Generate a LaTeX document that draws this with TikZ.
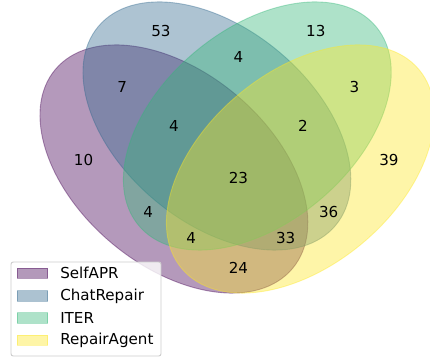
\documentclass[tikz,border=0pt]{standalone}
\usepackage{fontspec}
\setmainfont{DejaVu Sans}
\definecolor{cA}{HTML}{440154}
\definecolor{cB}{HTML}{31688E}
\definecolor{cC}{HTML}{35B779}
\definecolor{cD}{HTML}{FDE725}
\definecolor{legframe}{HTML}{CCCCCC}
\tikzset{
  venn/.style={fill=#1, draw=#1, fill opacity=0.4, draw opacity=0.4, line width=0.6pt},
  num/.style={font=\fontsize{10}{12}\selectfont, text=black, inner sep=0pt},
  legpatch/.style={fill=#1, draw=#1, fill opacity=0.4, draw opacity=0.4, line width=0.6pt, minimum width=0.0721*10cm-0.6pt, minimum height=0.0256*10cm-0.6pt, inner sep=0pt},
  legtext/.style={font=\fontsize{10}{12}\selectfont, anchor=west, inner sep=0pt},
}
\begin{document}
\begin{tikzpicture}[x=10cm,y=10cm]
\useasboundingbox (-0.0544,-0.0442) rectangle (0.9456,0.7930);
% ellipses
\path[venn=cA] (0.350,0.400) ellipse [x radius=3.6cm, y radius=2.25cm, rotate=140];
\path[venn=cB] (0.450,0.500) ellipse [x radius=3.6cm, y radius=2.25cm, rotate=140];
\path[venn=cC] (0.544,0.500) ellipse [x radius=3.6cm, y radius=2.25cm, rotate=40];
\path[venn=cD] (0.644,0.400) ellipse [x radius=3.6cm, y radius=2.25cm, rotate=40];
% labels
\node[num] (n0001) at (0.85,0.42) {39};
\node[num] (n0010) at (0.68,0.72) {13};
\node[num] (n0011) at (0.77,0.59) {3};
\node[num] (n0100) at (0.32,0.72) {53};
\node[num] (n0101) at (0.71,0.30) {36};
\node[num] (n0110) at (0.50,0.66) {4};
\node[num] (n0111) at (0.65,0.50) {2};
\node[num] (n1000) at (0.14,0.42) {10};
\node[num] (n1001) at (0.50,0.17) {24};
\node[num] (n1010) at (0.29,0.30) {4};
\node[num] (n1011) at (0.39,0.24) {4};
\node[num] (n1100) at (0.23,0.59) {7};
\node[num] (n1101) at (0.61,0.24) {33};
\node[num] (n1110) at (0.35,0.50) {4};
\node[num] (n1111) at (0.50,0.38) {23};
% legend
\draw[legframe, fill=white, fill opacity=0.8, line width=0.6pt, rounded corners=1.5pt] (-0.0288,-0.0349) rectangle (0.3200,0.1837);
\node[legpatch=cA] (pA) at (0.0212,0.1581) {};
\node[legpatch=cB] (pB) at (0.0212,0.1047) {};
\node[legpatch=cC] (pC) at (0.0212,0.0535) {};
\node[legpatch=cD] (pD) at (0.0212,0.0023) {};
\node[legtext] (tA) at (0.0851,0.1581) {SelfAPR};
\node[legtext] (tB) at (0.0851,0.1047) {ChatRepair};
\node[legtext] (tC) at (0.0851,0.0535) {ITER};
\node[legtext] (tD) at (0.0851,0.0023) {RepairAgent};
\end{tikzpicture}
\end{document}
